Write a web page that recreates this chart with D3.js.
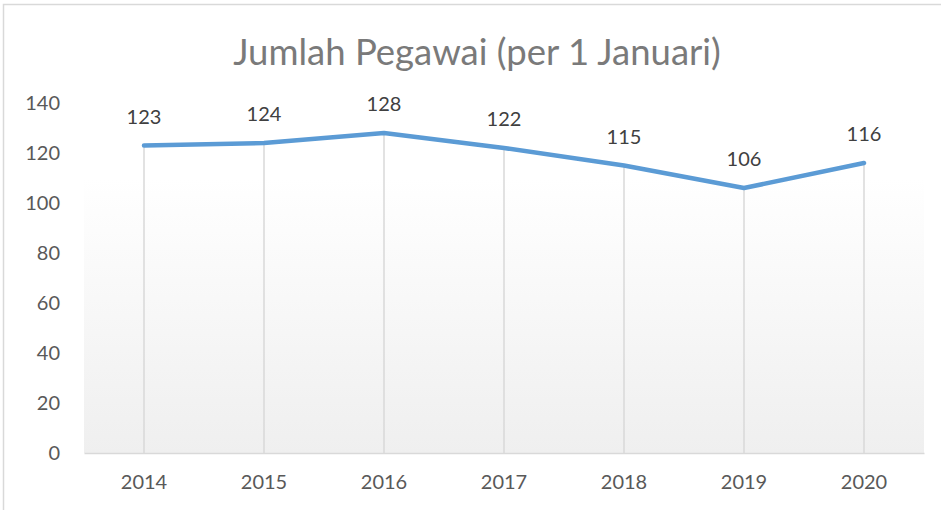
<!DOCTYPE html>
<html>
<head>
<meta charset="utf-8">
<script src="https://cdn.jsdelivr.net/npm/d3@7"></script>
<style>
  html, body { margin: 0; padding: 0; background: #fff; }
  svg { display: block; font-family: Lato, "Open Sans", sans-serif; }
</style>
</head>
<body>
<div id="chart"></div>
<script>
// data
const years = ["2014", "2015", "2016", "2017", "2018", "2019", "2020"];
const employees = [123, 124, 128, 122, 115, 106, 116];
const yTicks = [0, 20, 40, 60, 80, 100, 120, 140];
const title = "Jumlah Pegawai (per 1 Januari)";

(function () {
  const W = 941, H = 510;
  const margin = { top: 103, right: 17, bottom: 57, left: 84 };
  const width = W - margin.left - margin.right;
  const height = H - margin.top - margin.bottom;

  const svg = d3.select("#chart").append("svg")
    .attr("width", W).attr("height", H);

  // outer chart border
  svg.append("rect")
    .attr("x", 3.5).attr("y", 4.5)
    .attr("width", W).attr("height", H)
    .attr("fill", "none").attr("stroke", "#d9d9d9").attr("stroke-width", 1.5);

  const defs = svg.append("defs");
  const grad = defs.append("linearGradient")
    .attr("id", "plotFill").attr("x1", 0).attr("y1", 0).attr("x2", 0).attr("y2", 1);
  grad.append("stop").attr("offset", "0%").attr("stop-color", "#ffffff");
  grad.append("stop").attr("offset", "100%").attr("stop-color", "#efefef");

  svg.append("text")
    .attr("x", 477).attr("y", 65)
    .attr("text-anchor", "middle")
    .attr("fill", "#7a7a7a")
    .attr("font-size", 36.5)
    .text(title);

  const g = svg.append("g")
    .attr("transform", `translate(${margin.left},${margin.top})`);

  const x = d3.scaleBand().domain(years).range([0, width]);
  const y = d3.scaleLinear().domain([0, 140]).range([height, 0]);
  const cx = (d) => x(d) + x.bandwidth() / 2;

  // plot area fill
  g.append("rect")
    .attr("x", 0).attr("y", y(110))
    .attr("width", width).attr("height", height - y(110))
    .attr("fill", "url(#plotFill)");

  // y axis labels
  const yAxis = g.append("g")
    .call(d3.axisLeft(y).tickValues(yTicks).tickSize(0).tickPadding(24));
  yAxis.select(".domain").remove();
  yAxis.selectAll("text")
    .attr("fill", "#595959").attr("font-size", 20)
    .attr("font-family", "Lato, 'Open Sans', sans-serif");

  // drop lines
  g.selectAll(".drop")
    .data(years)
    .join("line")
    .attr("class", "drop")
    .attr("x1", cx).attr("x2", cx)
    .attr("y1", (d, i) => y(employees[i]))
    .attr("y2", y(0))
    .attr("stroke", "#d9d9d9").attr("stroke-width", 1.5);

  // x axis
  const xAxis = g.append("g")
    .attr("transform", `translate(0,${height})`)
    .call(d3.axisBottom(x).tickSize(0).tickPadding(22));
  xAxis.select(".domain").attr("stroke", "#d9d9d9").attr("stroke-width", 1.5);
  xAxis.selectAll("text")
    .attr("fill", "#595959").attr("font-size", 20)
    .attr("font-family", "Lato, 'Open Sans', sans-serif");

  // line
  const line = d3.line()
    .x((d, i) => cx(years[i]))
    .y((d) => y(d));

  g.append("path")
    .datum(employees)
    .attr("d", line)
    .attr("fill", "none")
    .attr("stroke", "#5b9bd5")
    .attr("stroke-width", 4.5)
    .attr("stroke-linejoin", "round")
    .attr("stroke-linecap", "round");

  // data labels
  g.selectAll(".label")
    .data(employees)
    .join("text")
    .attr("class", "label")
    .attr("x", (d, i) => cx(years[i]))
    .attr("y", (d) => y(d) - 22)
    .attr("text-anchor", "middle")
    .attr("fill", "#404040")
    .attr("font-size", 20)
    .text((d) => d);
})();
</script>
</body>
</html>
